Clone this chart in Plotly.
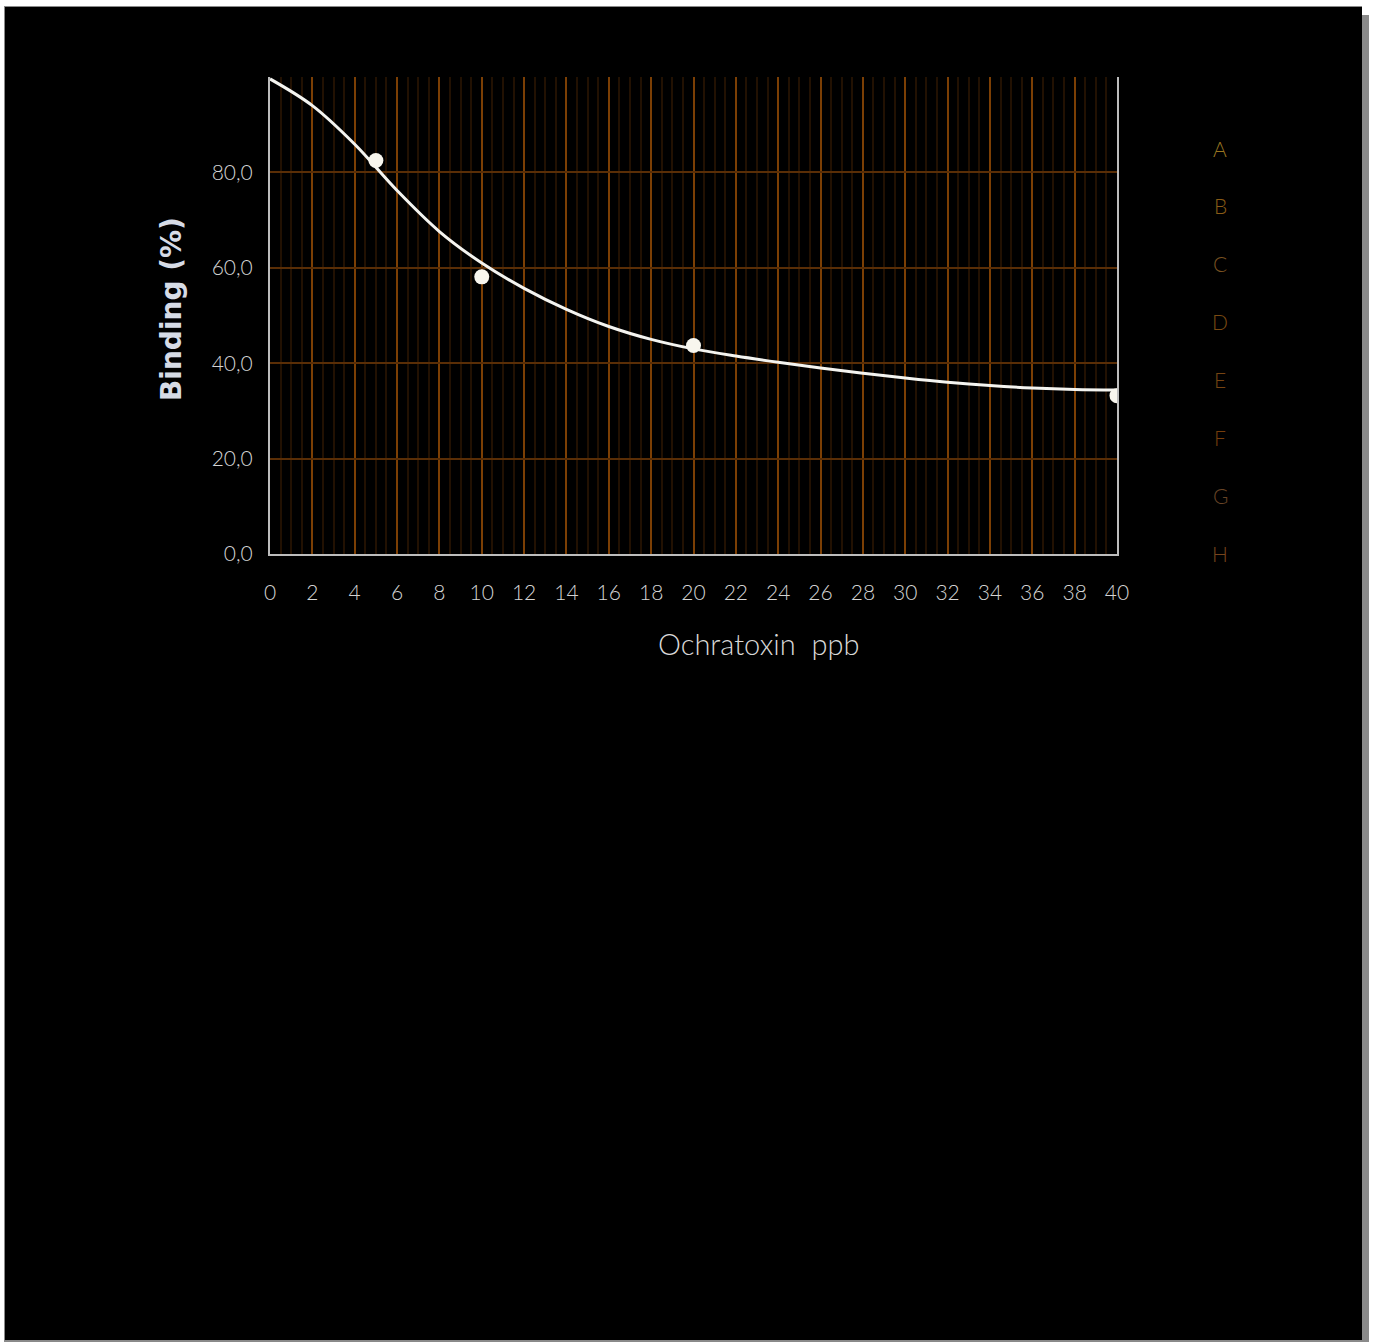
import plotly.graph_objects as go

# ---- data ----
curve_x = [0, 2, 4, 6, 8, 10, 12, 14, 16, 18, 20, 22, 24, 26, 28, 30, 32, 34, 36, 38, 40]
curve_y = [99.6, 94.0, 85.9, 76.2, 67.6, 61.0, 55.7, 51.3, 47.7, 45.0, 43.0, 41.5, 40.2,
           39.0, 37.9, 36.9, 36.0, 35.3, 34.8, 34.5, 34.4]
point_x = [5, 10, 20, 40]
point_y = [82.5, 58.1, 43.7, 33.2]
y_tickvals = [0, 20, 40, 60, 80]
y_ticktext = ["0,0", "20,0", "40,0", "60,0", "80,0"]
x_tickvals = list(range(0, 41, 2))
side_letters = ["A", "B", "C", "D", "E", "F", "G", "H"]
letter_colors = ["#9a7620", "#8a5c16", "#7a5220", "#7a4a12", "#764412", "#763e0c", "#684426", "#76441c"]

W, H = 1373, 1342
L, R, T, B = 270, 1117, 77, 554  # plot area in pixels

THIN = "Lato"


def px(x):
    return (x - L) / (R - L)


def py(y):
    return (B - y) / (B - T)


fig = go.Figure()
fig.add_trace(go.Scatter(x=curve_x, y=curve_y, mode="lines",
                         line=dict(color="#f4f4f0", width=3, shape="spline", smoothing=1.0),
                         hoverinfo="skip", showlegend=False))
fig.add_trace(go.Scatter(x=point_x, y=point_y, mode="markers",
                         marker=dict(color="#f8f6ee", size=15, line=dict(width=0)),
                         showlegend=False))

shapes = [
    # gray shadow / border
    dict(type="rect", xref="paper", yref="paper", x0=px(4), x1=px(1369), y0=py(1342), y1=py(6),
         fillcolor="#8a8a8a", line=dict(width=0), layer="below"),
    dict(type="rect", xref="paper", yref="paper", x0=px(1369), x1=px(1373), y0=py(1342), y1=py(0),
         fillcolor="white", line=dict(width=0), layer="below"),
    dict(type="rect", xref="paper", yref="paper", x0=px(1362), x1=px(1369), y0=py(15), y1=py(0),
         fillcolor="white", line=dict(width=0), layer="below"),
    dict(type="rect", xref="paper", yref="paper", x0=px(5), x1=px(1362), y0=py(1340), y1=py(7),
         fillcolor="black", line=dict(width=0), layer="below"),
]

annotations = [
    dict(text="Ochratoxin  ppb", xref="paper", yref="paper", x=px(758), y=py(643),
         showarrow=False, font=dict(family=THIN, size=29, color="#d8d8d8", weight=300),
         xanchor="center", yanchor="middle"),
    dict(text="<b>Binding (%)</b>", xref="paper", yref="paper", x=px(171), y=py(309),
         showarrow=False, textangle=-90, font=dict(family="DejaVu Sans", size=28, color="#d6dbe6"),
         xanchor="center", yanchor="middle"),
]
for i, (lt, c) in enumerate(zip(side_letters, letter_colors)):
    annotations.append(dict(text=lt, xref="paper", yref="paper", x=px(1220), y=py(148 + i * 57.9),
                            showarrow=False, font=dict(family=THIN, size=21, color=c, weight=300),
                            xanchor="center", yanchor="middle"))

tickfont = dict(family=THIN, size=21, color="#d4d4d4", weight=300)

fig.update_layout(
    template="none",
    width=W, height=H,
    margin=dict(l=L, r=W - R, t=T, b=H - B, pad=0),
    paper_bgcolor="white", plot_bgcolor="black",
    shapes=shapes, annotations=annotations,
    xaxis=dict(range=[0, 40], tickvals=x_tickvals, ticktext=[str(v) for v in x_tickvals],
               showgrid=True, gridcolor="#7c3f04", gridwidth=1.5,
               minor=dict(dtick=0.5, tick0=0, showgrid=True, gridcolor="#221102", gridwidth=1.5),
               showline=True, linecolor="#bdbdbd", linewidth=2, zeroline=False,
               ticks="", ticklabelstandoff=19, tickfont=tickfont),
    yaxis=dict(range=[0, 100], tickvals=y_tickvals, ticktext=y_ticktext,
               showgrid=True, gridcolor="#5a2e06", gridwidth=1.5,
               showline=True, linecolor="#bdbdbd", linewidth=2, mirror=True, zeroline=False,
               ticks="", ticklabelstandoff=11, tickfont=tickfont),
    font=dict(family=THIN),
)

fig.write_html("out.html", config={"displayModeBar": False},
               post_script="document.body.style.margin='0';document.body.style.overflow='hidden';")
